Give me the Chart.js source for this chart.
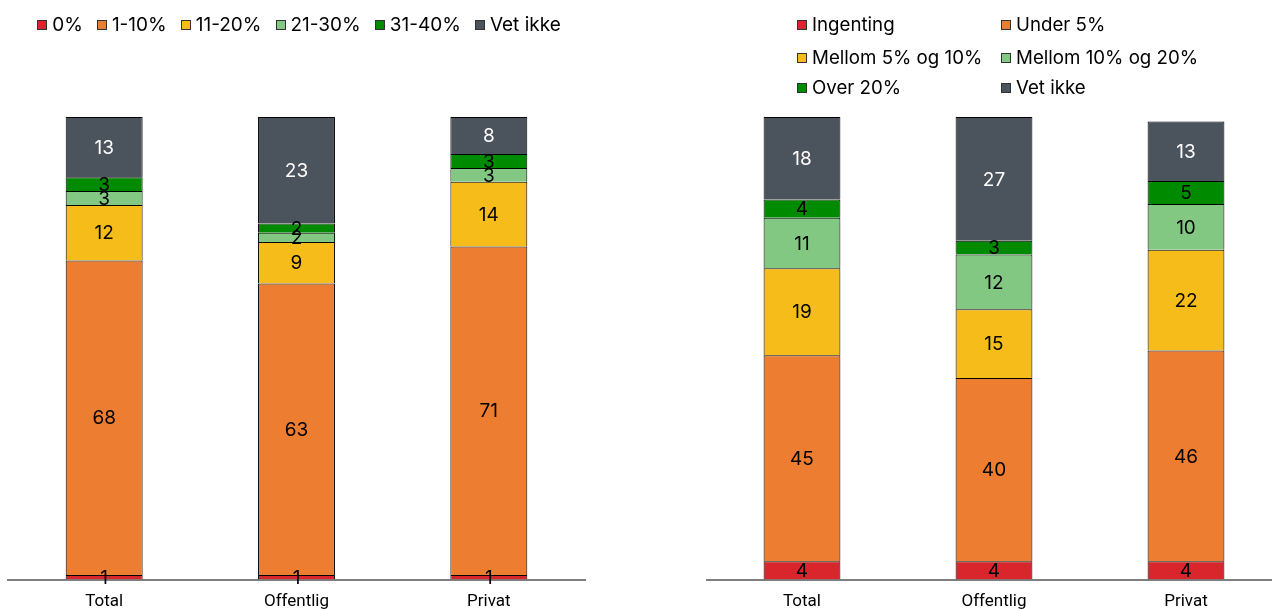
<!DOCTYPE html>
<html>
<head>
<meta charset="utf-8">
<script src="https://cdn.jsdelivr.net/npm/chart.js@4.4.1/dist/chart.umd.min.js"></script>
<style>
    html, body { margin: 0; padding: 0; background: #fff; overflow: hidden; width: 1272px; height: 610px; }
    canvas { position: absolute; top: 0; }
    #leftChart { left: 0; }
    #rightChart { left: 706px; }
    .legend { position: absolute; font-family: 'Inter', sans-serif; color: #000; }
    #leftLegend { left: 0; top: 14px; width: 598px; display: flex; justify-content: center; font-size: 19px; }
    #leftLegend .item { margin: 0 7px; }
    #rightLegend { left: 0; top: 0; font-size: 18.7px; }
    #rightLegend .item { position: absolute; }
    .legend .item { white-space: nowrap; display: flex; align-items: center; line-height: 22px; }
    .legend .box { width: 8px; height: 8px; border: 1px solid #333; margin-right: 5px; }
</style>
</head>
<body>
<canvas id="leftChart" width="600" height="627"></canvas>
<canvas id="rightChart" width="576" height="627"></canvas>
<div class="legend" id="leftLegend"></div>
<div class="legend" id="rightLegend"></div>
<script>
const categories = ['Total', 'Offentlig', 'Privat'];

// Venstre figur
const leftLabels = ['0%', '1-10%', '11-20%', '21-30%', '31-40%', 'Vet ikke'];
const left0 = [1, 1, 1];
const left1to10 = [68, 63, 71];
const left11to20 = [12, 9, 14];
const left21to30 = [3, 2, 3];
const left31to40 = [3, 2, 3];
const leftVetIkke = [13, 23, 8];

// Høyre figur
const rightLabels = ['Ingenting', 'Under 5%', 'Mellom 5% og 10%', 'Mellom 10% og 20%', 'Over 20%', 'Vet ikke'];
const rightIngenting = [4, 4, 4];
const rightUnder5 = [45, 40, 46];
const right5to10 = [19, 15, 22];
const right10to20 = [11, 12, 10];
const rightOver20 = [4, 3, 5];
const rightVetIkke = [18, 27, 13];

const colors = ['#d9262c', '#ed7d31', '#f6bd1a', '#82c883', '#008a00', '#4b535c'];

// Verdier midt i hvert segment
const segmentLabels = {
    id: 'segmentLabels',
    afterDatasetsDraw(chart) {
        const ctx = chart.ctx;
        ctx.save();
        ctx.font = '19px Inter, sans-serif';
        ctx.textAlign = 'center';
        ctx.textBaseline = 'middle';
        chart.data.datasets.forEach((ds, i) => {
            const meta = chart.getDatasetMeta(i);
            ctx.fillStyle = i === 5 ? '#ffffff' : '#000000';
            meta.data.forEach((bar, j) => {
                const v = ds.data[j];
                if (!v) return;
                ctx.fillText(String(v), bar.x, (bar.y + bar.base) / 2 + 1);
            });
        });
        ctx.restore();
    }
};

function buildChart(canvasId, labels, series, yMax, padLeft, padRight) {
    const ctx = document.getElementById(canvasId).getContext('2d');
    return new Chart(ctx, {
        type: 'bar',
        data: {
            labels: categories,
            datasets: series.map((data, i) => ({
                label: labels[i],
                data: data,
                backgroundColor: colors[i],
                borderColor: '#000',
                borderWidth: 1,
                borderSkipped: 'start',
                categoryPercentage: 1,
                barPercentage: 0.4
            }))
        },
        options: {
            responsive: false,
            animation: false,
            layout: { padding: { top: 117, bottom: 3, left: padLeft, right: padRight } },
            plugins: { legend: { display: false }, tooltip: { enabled: false } },
            scales: {
                x: {
                    stacked: true,
                    grid: { display: false, drawTicks: false },
                    border: { display: true, color: '#7f7f7f', width: 2 },
                    ticks: { color: '#000', padding: 12, font: { family: 'Roboto', size: 17 } }
                },
                y: { stacked: true, display: false, min: 0, max: yMax }
            }
        },
        plugins: [segmentLabels]
    });
}

function buildLegend(id, labels, positions) {
    const el = document.getElementById(id);
    labels.forEach((text, i) => {
        const item = document.createElement('div');
        item.className = 'item';
        if (positions) {
            item.style.left = positions[i][0] + 'px';
            item.style.top = positions[i][1] + 'px';
        }
        item.innerHTML = '<span class="box" style="background:' + colors[i] + '"></span>' + text;
        el.appendChild(item);
    });
}

buildChart('leftChart', leftLabels,
    [left0, left1to10, left11to20, left21to30, left31to40, leftVetIkke], 100, 8, 15);
buildChart('rightChart', rightLabels,
    [rightIngenting, rightUnder5, right5to10, right10to20, rightOver20, rightVetIkke], 101, 0, 0);

buildLegend('leftLegend', leftLabels, null);
buildLegend('rightLegend', rightLabels,
    [[797, 14], [1001, 14], [797, 47], [1001, 47], [797, 77], [1001, 77]]);
</script>
</body>
</html>
